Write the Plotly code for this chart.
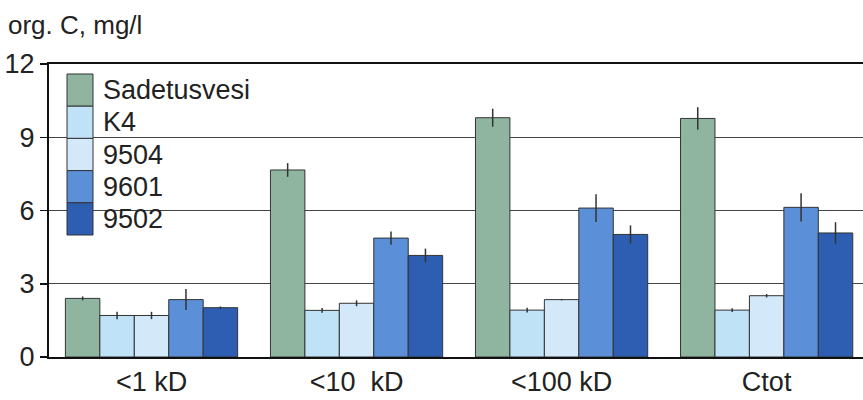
import plotly.graph_objects as go

categories = ["<1 kD", "<10  kD", "<100 kD", "Ctot"]
series_names = ["Sadetusvesi", "K4", "9504", "9601", "9502"]
sadetusvesi = [2.4, 7.66, 9.80, 9.77]
sadetusvesi_err = [0.08, 0.28, 0.37, 0.46]
k4 = [1.70, 1.91, 1.92, 1.92]
k4_err = [0.15, 0.10, 0.10, 0.08]
s9504 = [1.70, 2.20, 2.35, 2.51]
s9504_err = [0.15, 0.12, 0.03, 0.07]
s9601 = [2.35, 4.87, 6.10, 6.13]
s9601_err = [0.43, 0.27, 0.57, 0.58]
s9502 = [2.02, 4.16, 5.02, 5.08]
s9502_err = [0.05, 0.28, 0.37, 0.44]
y_ticks = [0, 3, 6, 9, 12]

values = [sadetusvesi, k4, s9504, s9601, s9502]
errors = [sadetusvesi_err, k4_err, s9504_err, s9601_err, s9502_err]
colors = ["#8fb5a1", "#c0e2f6", "#d3e8f8", "#5b8fd8", "#2d5eb2"]

FONT = "Liberation Sans, Arial, Helvetica, sans-serif"
TXT = "#222222"
W, H = 863, 400
ML, MR, MT, MB = 49, 0, 64, 43
PW = W - ML - MR
PH = H - MT - MB


def px_x(p):
    return (p - ML) / PW


def px_y(p):
    return (H - MB - p) / PH


fig = go.Figure()
for name, vals, errs, col in zip(series_names, values, errors, colors):
    fig.add_trace(go.Bar(
        x=categories, y=vals, name=name,
        marker=dict(color=col, line=dict(color="#333333", width=1)),
        error_y=dict(type="data", array=errs, visible=True,
                     color="#333333", thickness=1.5, width=0),
        showlegend=False,
    ))

shapes = []
# white area behind the legend, covering gridlines
shapes.append(dict(type="rect", xref="x", yref="y", x0=-0.6, x1=0.31,
                   y0=4.7, y1=12, fillcolor="white", line=dict(width=0),
                   layer="below"))
annotations = []
box_top = 74
step = 32.2
for i, (name, col) in enumerate(zip(series_names, colors)):
    y0 = box_top + i * step
    y1 = y0 + step
    shapes.append(dict(type="rect", xref="paper", yref="paper",
                       x0=px_x(67), x1=px_x(93), y0=px_y(y1), y1=px_y(y0),
                       fillcolor=col, line=dict(color="#333333", width=1),
                       layer="above"))
    annotations.append(dict(xref="paper", yref="paper", x=px_x(101),
                            y=px_y((y0 + y1) / 2), text=name, showarrow=False,
                            xanchor="left", yanchor="middle",
                            font=dict(family=FONT, size=27, color=TXT)))

annotations.append(dict(xref="paper", yref="paper", x=px_x(6), y=px_y(25),
                        text="org. C, mg/l", showarrow=False,
                        xanchor="left", yanchor="middle",
                        font=dict(family=FONT, size=26, color=TXT)))

fig.update_layout(
    width=W, height=H,
    margin=dict(l=ML, r=MR, t=MT, b=MB, pad=0),
    paper_bgcolor="white", plot_bgcolor="white",
    barmode="group", bargap=0.16, bargroupgap=0,
    font=dict(family=FONT, size=26, color=TXT),
    shapes=shapes, annotations=annotations,
    xaxis=dict(range=[-0.5, 3.47], showgrid=False, showline=True,
               linecolor="#111111", linewidth=2, mirror=True, ticks="",
               automargin=False,
               tickfont=dict(family=FONT, size=27, color=TXT),
               ticklabelstandoff=0),
    yaxis=dict(range=[0, 12], tickvals=y_ticks, showgrid=True,
               gridcolor="#444444", gridwidth=1, showline=True,
               linecolor="#111111", linewidth=2, ticks="outside",
               ticklen=7, tickwidth=1.5, tickcolor="#111111",
               zeroline=False, automargin=False,
               tickfont=dict(family=FONT, size=27, color=TXT)),
)

fig.write_html("out.html",
               config={"displayModeBar": False, "staticPlot": True},
               post_script="document.body.style.margin='0';"
                           "document.body.style.overflow='hidden';")
